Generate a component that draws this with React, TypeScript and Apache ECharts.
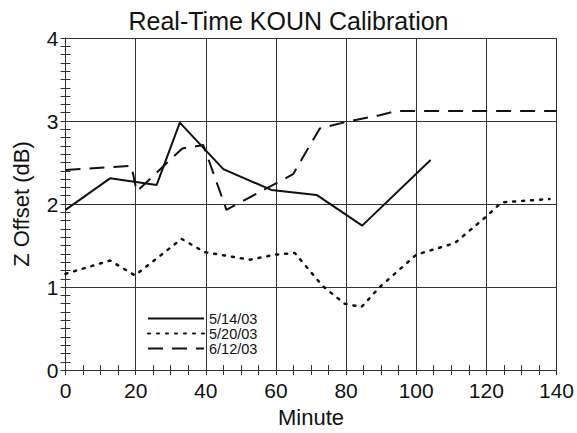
import React, { useEffect, useRef } from "react";
import * as echarts from "echarts";

const minutes1 = [0, 12.7, 26, 32.6, 45, 58.7, 71.6, 84.6, 104.1];
const values1 = [1.93, 2.31, 2.23, 2.98, 2.42, 2.17, 2.11, 1.74, 2.53];

const minutes2 = [0, 12.7, 19.8, 33.1, 39.7, 52.6, 59.7, 65.4, 73.4, 79.6, 84.4, 89.6, 100, 111, 120, 124.3, 138];
const values2 = [1.16, 1.32, 1.14, 1.58, 1.42, 1.33, 1.39, 1.41, 1.01, 0.8, 0.76, 1.0, 1.39, 1.53, 1.85, 2.02, 2.06];

const minutes3 = [0, 18.8, 20.3, 33.3, 39.3, 45.9, 64.9, 72.5, 80.1, 89.6, 94.3, 140];
const values3 = [2.41, 2.46, 2.15, 2.67, 2.71, 1.93, 2.36, 2.91, 2.99, 3.07, 3.12, 3.12];

const seriesNames = ["5/14/03", "5/20/03", "6/12/03"];
const xTicks = [0, 20, 40, 60, 80, 100, 120, 140];
const yTicks = [0, 1, 2, 3, 4];

const FONT = "Liberation Sans, Arial, Helvetica, sans-serif";
const INK = "#111";
const GRID = "#333";

function pairs(xs: number[], ys: number[]) {
  return xs.map((x, i) => [x, ys[i]]);
}

export default function App() {
  const ref = useRef<HTMLDivElement>(null);
  useEffect(() => {
    if (!ref.current) return;
    const chart = echarts.init(ref.current, null, { renderer: "svg" });
    const axisCommon = {
      axisLine: { show: true, lineStyle: { color: GRID, width: 1 } },
      axisTick: { show: true, inside: true, length: 5, lineStyle: { color: GRID, width: 1 } },
      minorTick: { show: true, length: 5, lineStyle: { color: GRID, width: 1 } },
      splitLine: { show: false },
    };
    chart.setOption({
      animation: false,
      backgroundColor: "#fff",
      title: {
        text: "Real-Time KOUN Calibration",
        left: "center",
        top: 3,
        textStyle: { fontFamily: FONT, fontSize: 25, fontWeight: "normal", color: INK },
      },
      grid: { left: 65.5, right: 20.5, top: 38, bottom: 57 },
      legend: {
        orient: "vertical",
        left: 142,
        top: 306,
        itemWidth: 56,
        itemHeight: 10,
        itemGap: 0,
        itemStyle: { opacity: 0 },
        textStyle: { fontFamily: FONT, fontSize: 14.5, color: INK },
        data: seriesNames,
      },
      xAxis: [
        {
          type: "value",
          min: xTicks[0],
          max: xTicks[xTicks.length - 1],
          interval: 20,
          name: "Minute",
          nameLocation: "middle",
          nameGap: 30,
          nameTextStyle: { fontFamily: FONT, fontSize: 22, color: INK },
          axisLabel: { fontFamily: FONT, fontSize: 21, color: INK, margin: 10 },
          ...axisCommon,
          minorTick: { ...axisCommon.minorTick, splitNumber: 4 },
          splitLine: { show: true, lineStyle: { color: GRID, width: 1 } },
        },
        {
          type: "value",
          position: "top",
          min: xTicks[0],
          max: xTicks[xTicks.length - 1],
          interval: 20,
          axisLabel: { show: false },
          ...axisCommon,
          minorTick: { ...axisCommon.minorTick, splitNumber: 4 },
        },
      ],
      yAxis: [
        {
          type: "value",
          min: yTicks[0],
          max: yTicks[yTicks.length - 1],
          interval: 1,
          name: "Z Offset (dB)",
          nameLocation: "middle",
          nameGap: 33,
          nameTextStyle: { fontFamily: FONT, fontSize: 22, color: INK },
          axisLabel: { fontFamily: FONT, fontSize: 21, color: INK, margin: 7 },
          ...axisCommon,
          minorTick: { ...axisCommon.minorTick, splitNumber: 10 },
          splitLine: { show: true, lineStyle: { color: GRID, width: 1 } },
        },
        {
          type: "value",
          position: "right",
          min: yTicks[0],
          max: yTicks[yTicks.length - 1],
          interval: 1,
          axisLabel: { show: false },
          ...axisCommon,
          minorTick: { ...axisCommon.minorTick, splitNumber: 10 },
        },
      ],
      series: [
        {
          name: seriesNames[0],
          type: "line",
          data: pairs(minutes1, values1),
          showSymbol: false,
          symbol: "none",
          lineStyle: { color: INK, width: 2, type: "solid" },
          itemStyle: { color: INK },
        },
        {
          name: seriesNames[1],
          type: "line",
          data: pairs(minutes2, values2),
          showSymbol: false,
          symbol: "none",
          lineStyle: { color: INK, width: 2.5, type: [2, 7], cap: "round" },
          itemStyle: { color: INK },
        },
        {
          name: seriesNames[2],
          type: "line",
          data: pairs(minutes3, values3),
          showSymbol: false,
          symbol: "none",
          lineStyle: { color: INK, width: 2, type: [15, 9] },
          itemStyle: { color: INK },
        },
      ],
    });
    return () => chart.dispose();
  }, []);
  return <div ref={ref} style={{ width: 577, height: 433, position: "absolute", left: 0, top: 0 }} />;
}
